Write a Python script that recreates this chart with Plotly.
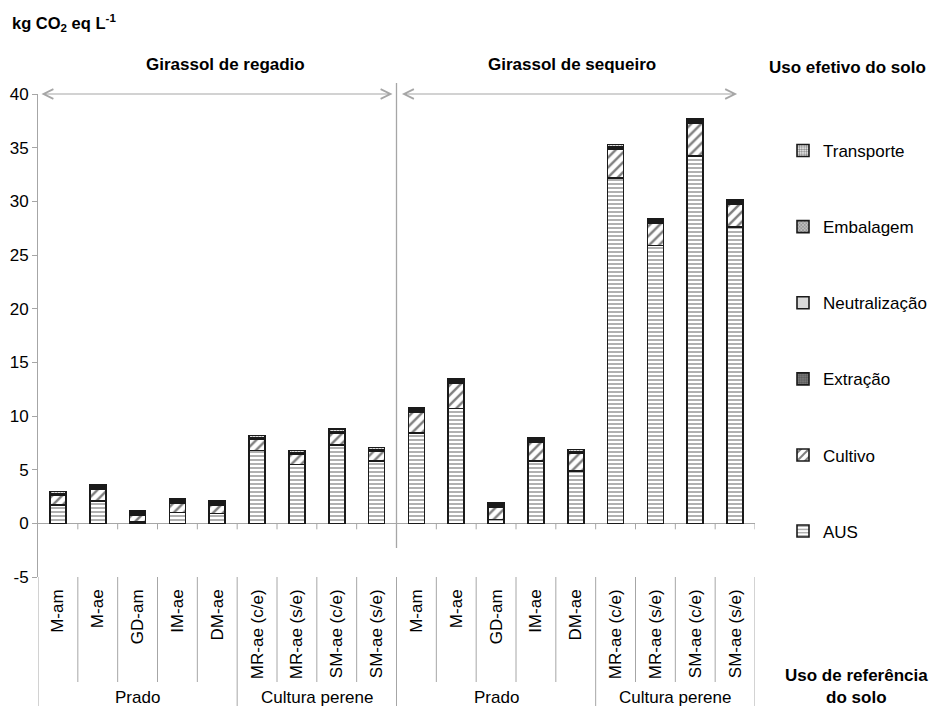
import plotly.graph_objects as go

# --- data -------------------------------------------------------------------
usos_referencia = ["M-am", "M-ae", "GD-am", "IM-ae", "DM-ae",
                   "MR-ae (c/e)", "MR-ae (s/e)", "SM-ae (c/e)", "SM-ae (s/e)"]
categorias = usos_referencia + usos_referencia
grupos_referencia = ["Prado", "Cultura perene", "Prado", "Cultura perene"]
tamanho_grupos = [5, 4, 5, 4]
sistemas = ["Girassol de regadio", "Girassol de sequeiro"]
y_ticks = [-5, 0, 5, 10, 15, 20, 25, 30, 35, 40]
y_tick_text = ["-5", "0", "5", "10", "15", "20", "25", "30", "35", "40"]

aus = [1.7, 2.1, 0.1, 1.0, 0.9, 6.8, 5.5, 7.3, 5.8,
       8.4, 10.7, 0.35, 5.8, 4.9, 32.2, 25.9, 34.2, 27.6]
cultivo = [0.9, 1.1, 0.7, 0.9, 0.8, 1.0, 0.9, 1.1, 0.9,
           2.0, 2.4, 1.2, 1.8, 1.6, 2.7, 2.1, 3.1, 2.15]
extracao = [0.04, 0.04, 0.03, 0.04, 0.04, 0.04, 0.04, 0.04, 0.04,
            0.04, 0.04, 0.03, 0.04, 0.04, 0.05, 0.05, 0.05, 0.05]
neutralizacao = [0.01, 0.01, 0.01, 0.01, 0.01, 0.01, 0.01, 0.01, 0.01,
                 0.01, 0.01, 0.01, 0.01, 0.01, 0.01, 0.01, 0.01, 0.01]
embalagem = [0.12, 0.12, 0.12, 0.12, 0.12, 0.12, 0.12, 0.12, 0.12,
             0.12, 0.12, 0.12, 0.12, 0.12, 0.12, 0.12, 0.12, 0.12]
transporte = [0.2, 0.2, 0.2, 0.2, 0.2, 0.2, 0.2, 0.2, 0.2,
              0.2, 0.2, 0.2, 0.2, 0.2, 0.2, 0.2, 0.2, 0.2]

componentes = [
    ("AUS", aus),
    ("Cultivo", cultivo),
    ("Extração", extracao),
    ("Neutralização", neutralizacao),
    ("Embalagem", embalagem),
    ("Transporte", transporte),
]

# --- styling ----------------------------------------------------------------
FONT = "Liberation Sans, Arial, sans-serif"
FS = 17
AXIS_GREY = "#a6a6a6"
padroes = {
    "AUS": dict(shape="-", fgcolor="#3a3a3a", bgcolor="white", size=4, solidity=0.4),
    "Cultivo": dict(shape="/", fgcolor="black", bgcolor="white", size=7, solidity=0.35),
    "Extração": dict(shape=".", fgcolor="#303030", bgcolor="#808080", size=3, solidity=0.5),
    "Neutralização": dict(shape="", fgcolor="#d9d9d9", bgcolor="#d9d9d9"),
    "Embalagem": dict(shape="x", fgcolor="#404040", bgcolor="#c0c0c0", size=3, solidity=0.4),
    "Transporte": dict(shape=".", fgcolor="black", bgcolor="white", size=3, solidity=0.5),
}
cores = {"AUS": "white", "Cultivo": "white", "Extração": "#808080",
         "Neutralização": "#d9d9d9", "Embalagem": "#c0c0c0", "Transporte": "white"}

x = list(range(len(categorias)))
n = len(categorias)

fig = go.Figure()
for i, (nome, valores) in enumerate(componentes):
    fig.add_trace(go.Bar(
        x=x, y=valores, name=nome, legendgroup=nome,
        legendrank=len(componentes) - i,
        marker=dict(color=cores[nome], pattern=padroes[nome],
                    line=dict(color="#1a1a1a", width=1.6)),
        width=0.4,
    ))

# plot area: x from 38 px to 755 px, y(40) at 94 px, y(-5) at 577 px
L, R, T, B = 38, 175, 94, 129
W, H = 930, 706
pw, ph = W - L - R, H - T - B


def px_x(p):
    return (p - L) / pw


def px_y(p):
    return (H - B - p) / ph


shapes = []
# small ticks hanging from the zero line at each category boundary
for k in range(1, n + 1):
    shapes.append(dict(type="line", xref="x", yref="y", x0=k - 0.5, x1=k - 0.5,
                       y0=0, y1=-0.56, line=dict(color=AXIS_GREY, width=1)))
# separators in the category label area
fronteiras_grupo = [0]
acc = 0
for t in tamanho_grupos:
    acc += t
    fronteiras_grupo.append(acc)
for k in range(0, n + 1):
    fundo = px_y(H) if k in fronteiras_grupo else px_y(682)
    shapes.append(dict(type="line", xref="x", yref="paper", x0=k - 0.5, x1=k - 0.5,
                       y0=0, y1=fundo, line=dict(color=AXIS_GREY, width=1)))
# vertical divider between the two crop systems
meio = len(usos_referencia) - 0.5
shapes.append(dict(type="line", xref="x", yref="paper", x0=meio, x1=meio,
                   y0=px_y(548), y1=px_y(83), line=dict(color=AXIS_GREY, width=1.3)))

annotations = []
# double-headed arrows spanning each crop system
for a0, a1 in [(-0.45, meio - 0.1), (meio + 0.1, n - 0.95)]:
    annotations.append(dict(x=a1, y=40, ax=a0, ay=40, xref="x", yref="y",
                            axref="x", ayref="y", text="", showarrow=True,
                            arrowhead=5, startarrowhead=5, arrowside="end+start",
                            arrowsize=1.6, startarrowsize=1.6, arrowwidth=1.2,
                            arrowcolor=AXIS_GREY, standoff=0, startstandoff=0))


def rotulo(texto, xv, yv, xref="paper", size=FS, xanchor="center"):
    return dict(x=xv, y=yv, xref=xref, yref="paper", text=texto, showarrow=False,
                xanchor=xanchor, yanchor="middle",
                font=dict(size=size, color="black", family=FONT))


# crop system titles
for xv, s in zip([4.2, 12.9], sistemas):
    annotations.append(rotulo(f"<b>{s}</b>", xv, px_y(65), xref="x"))
# reference-use group labels
inicio = 0
for g, t in zip(grupos_referencia, tamanho_grupos):
    annotations.append(rotulo(g, inicio + (t - 1) / 2, px_y(697), xref="x"))
    inicio += t
annotations += [
    rotulo("<b>kg CO<sub>2</sub> eq L<sup>-1</sup></b>", px_x(10), px_y(23),
           size=16.5, xanchor="left"),
    rotulo("<b>Uso efetivo do solo</b>", px_x(928), px_y(67), xanchor="right"),
    rotulo("<b>Uso de referência<br>do solo</b>", px_x(856), px_y(686)),
]

fig.update_layout(
    width=W, height=H,
    margin=dict(l=L, r=R, t=T, b=B, pad=0, autoexpand=False),
    paper_bgcolor="white", plot_bgcolor="white",
    barmode="stack",
    font=dict(family=FONT, size=FS, color="black"),
    shapes=shapes, annotations=annotations,
    legend=dict(x=px_x(783), y=px_y(133), xanchor="left", yanchor="top",
                traceorder="grouped", tracegroupgap=51,
                font=dict(size=FS, color="black", family=FONT),
                bgcolor="rgba(0,0,0,0)"),
    xaxis=dict(range=[-0.5, n - 0.5], tickvals=x, ticktext=categorias,
               tickangle=-90, ticks="", showline=False, showgrid=False,
               zeroline=False, ticklabelstandoff=8, automargin=False,
               tickfont=dict(size=FS, color="black", family=FONT)),
    yaxis=dict(range=[-5, 40], tickvals=y_ticks, ticktext=y_tick_text,
               showgrid=False, showline=True, linecolor=AXIS_GREY, linewidth=1,
               ticks="outside", ticklen=5, tickcolor=AXIS_GREY, automargin=False,
               zeroline=True, zerolinecolor=AXIS_GREY, zerolinewidth=1,
               tickfont=dict(size=FS, color="black", family=FONT)),
)

fig.write_html("out.html")
